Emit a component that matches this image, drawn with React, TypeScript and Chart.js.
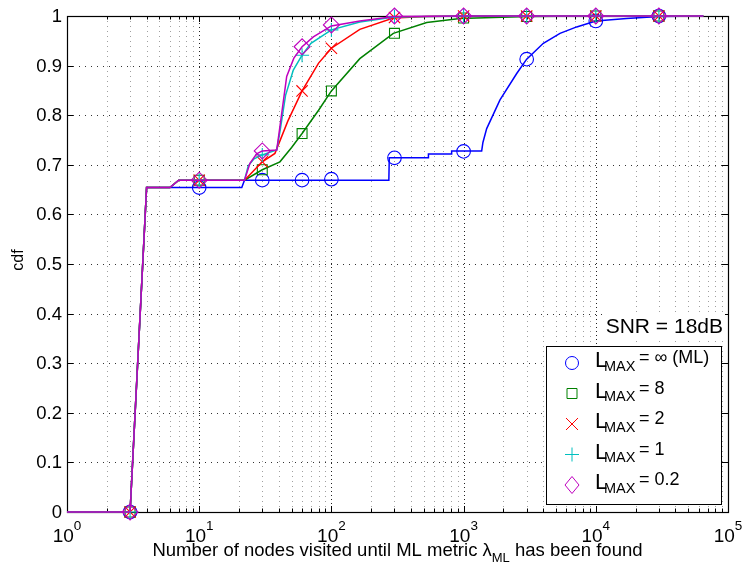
import React, { useEffect, useRef } from 'react';
import { Chart, registerables } from 'chart.js';

Chart.register(...registerables);

// ---- data ----
const markerX = [3, 10, 30, 60, 100, 300, 1000, 3000, 10000, 30000];
const mlMarkY = [0, 0.654, 0.669, 0.669, 0.671, 0.714, 0.727, 0.913, 0.99, 1.0];
const l8MarkY = [0, 0.669, 0.69, 0.763, 0.849, 0.965, 0.996, 0.999, 1.0, 1.0];
const l2MarkY = [0, 0.669, 0.706, 0.849, 0.935, 0.997, 1.0, 1.0, 1.0, 1.0];
const l1MarkY = [0, 0.669, 0.72, 0.921, 0.972, 0.999, 1.0, 1.0, 1.0, 1.0];
const l02MarkY = [0, 0.669, 0.728, 0.938, 0.982, 1.0, 1.0, 1.0, 1.0, 1.0];

const mlLineX = [1, 3, 4, 21, 22, 272, 274, 540, 542, 810, 812, 1370, 1400, 1495, 1885, 2522, 3000, 4010, 5360, 7170, 10000, 17100, 30000, 65000];
const mlLineY = [0, 0, 0.654, 0.654, 0.669, 0.669, 0.714, 0.714, 0.722, 0.722, 0.728, 0.728, 0.745, 0.773, 0.831, 0.884, 0.913, 0.945, 0.965, 0.978, 0.99, 0.995, 0.999, 1.0];

const l8LineX = [1, 3, 4, 6, 7, 22, 30, 40.8, 50, 60, 80, 100, 164, 294, 526, 940, 3000, 10000, 65000];
const l8LineY = [0, 0, 0.654, 0.654, 0.669, 0.669, 0.69, 0.706, 0.735, 0.763, 0.81, 0.849, 0.914, 0.965, 0.987, 0.995, 0.999, 1.0, 1.0];

const l2LineX = [1, 3, 4, 6, 7, 22, 30, 37.4, 46.8, 60, 80, 100, 164, 294, 526, 1000, 65000];
const l2LineY = [0, 0, 0.654, 0.654, 0.669, 0.669, 0.706, 0.723, 0.788, 0.849, 0.905, 0.935, 0.973, 0.996, 0.999, 1.0, 1.0];

const l1LineX = [1, 3, 4, 6, 7, 22, 23.5, 26, 30, 38.6, 41, 45, 51.5, 60, 70, 100, 164, 300, 1000, 65000];
const l1LineY = [0, 0, 0.654, 0.654, 0.669, 0.669, 0.698, 0.712, 0.72, 0.73, 0.77, 0.84, 0.891, 0.921, 0.945, 0.972, 0.988, 0.998, 1.0, 1.0];

const l02LineX = [1, 3, 4, 6, 7, 22, 24.2, 27.2, 30, 38.6, 40.8, 45.9, 52, 60, 73, 100, 164, 300, 1000, 65000];
const l02LineY = [0, 0, 0.654, 0.654, 0.669, 0.669, 0.703, 0.722, 0.728, 0.73, 0.777, 0.878, 0.915, 0.938, 0.958, 0.98, 0.99, 0.999, 1.0, 1.0];

const seriesValues = ['= \u221E (ML)', '= 8', '= 2', '= 1', '= 0.2'];
const yTickValues = [0, 0.1, 0.2, 0.3, 0.4, 0.5, 0.6, 0.7, 0.8, 0.9, 1];
const yTickLabels = ['0', '0.1', '0.2', '0.3', '0.4', '0.5', '0.6', '0.7', '0.8', '0.9', '1'];
const xTickExponents = [0, 1, 2, 3, 4, 5];
const xTitleMain = 'Number of nodes visited until ML metric \u03BB';
const xTitleSub = 'ML';
const xTitleEnd = ' has been found';
const yTitle = 'cdf';
const snrText = 'SNR = 18dB';

// ---- styles ----
const colors = ['#0000ff', '#008000', '#ff0000', '#00bfbf', '#bf00bf'];
const styles = ['circle', 'rect', 'crossRot', 'cross', 'rectRot'];
const radii = [6.8, 7, 8, 7, 8];
const FONT = '"Liberation Sans", Arial, Helvetica, sans-serif';

const zip = (xs: number[], ys: number[]) => xs.map((x, i) => ({ x, y: ys[i] }));

const lines = [
  zip(mlLineX, mlLineY),
  zip(l8LineX, l8LineY),
  zip(l2LineX, l2LineY),
  zip(l1LineX, l1LineY),
  zip(l02LineX, l02LineY),
];
const marks = [mlMarkY, l8MarkY, l2MarkY, l1MarkY, l02MarkY].map((ys) => zip(markerX, ys));

function drawMarker(ctx: CanvasRenderingContext2D, style: string, x: number, y: number, color: string) {
  ctx.save();
  ctx.strokeStyle = color;
  ctx.lineWidth = 1;
  ctx.setLineDash([]);
  ctx.beginPath();
  if (style === 'circle') {
    ctx.arc(x, y, 6.5, 0, Math.PI * 2);
  } else if (style === 'rect') {
    ctx.rect(x - 5, y - 5, 10, 10);
  } else if (style === 'crossRot') {
    ctx.moveTo(x - 6, y - 6); ctx.lineTo(x + 6, y + 6);
    ctx.moveTo(x + 6, y - 6); ctx.lineTo(x - 6, y + 6);
  } else if (style === 'cross') {
    ctx.moveTo(x - 7, y); ctx.lineTo(x + 7, y);
    ctx.moveTo(x, y - 7); ctx.lineTo(x, y + 7);
  } else {
    ctx.moveTo(x, y - 8.5); ctx.lineTo(x + 7, y); ctx.lineTo(x, y + 8.5); ctx.lineTo(x - 7, y); ctx.closePath();
  }
  ctx.stroke();
  ctx.restore();
}

const decor = {
  id: 'decor',
  beforeDatasetsDraw(chart: any) {
    const ctx: CanvasRenderingContext2D = chart.ctx;
    const { left, right, top, bottom } = chart.chartArea;
    const xs = chart.scales.x;
    const ys = chart.scales.y;
    ctx.save();
    ctx.lineWidth = 1;
    // vertical grid
    for (let e = 0; e < 5; e++) {
      for (let m = 1; m < 10; m++) {
        const v = m * Math.pow(10, e);
        if (v <= 1 || v >= 1e5) continue;
        const px = Math.round(xs.getPixelForValue(v)) + 0.5;
        const major = m === 1;
        ctx.strokeStyle = major ? '#222' : '#a0a0a0';
        ctx.setLineDash(major ? [1, 3] : [1, 4]);
        ctx.beginPath();
        ctx.moveTo(px, bottom);
        ctx.lineTo(px, top);
        ctx.stroke();
      }
    }
    // horizontal grid
    ctx.strokeStyle = '#333';
    ctx.setLineDash([1, 5]);
    yTickValues.forEach((v) => {
      if (v <= 0 || v >= 1) return;
      const py = Math.round(ys.getPixelForValue(v)) + 0.5;
      ctx.beginPath();
      ctx.moveTo(left, py);
      ctx.lineTo(right, py);
      ctx.stroke();
    });
    ctx.setLineDash([]);
    // ticks
    ctx.strokeStyle = '#000';
    yTickValues.forEach((v) => {
      const py = Math.round(ys.getPixelForValue(v)) + 0.5;
      ctx.beginPath();
      ctx.moveTo(left, py); ctx.lineTo(left + 6, py);
      ctx.moveTo(right, py); ctx.lineTo(right - 6, py);
      ctx.stroke();
    });
    for (let e = 0; e < 5; e++) {
      for (let m = 1; m < 10; m++) {
        const v = m * Math.pow(10, e);
        const px = Math.round(xs.getPixelForValue(v)) + 0.5;
        const len = m === 1 ? 6 : 3.5;
        ctx.beginPath();
        ctx.moveTo(px, bottom); ctx.lineTo(px, bottom - len);
        ctx.moveTo(px, top); ctx.lineTo(px, top + len);
        ctx.stroke();
      }
    }
    // frame
    ctx.lineWidth = 1.2;
    ctx.strokeRect(Math.round(left) + 0.5, Math.round(top) + 0.5, Math.round(right - left), Math.round(bottom - top));
    ctx.restore();
  },
  afterDraw(chart: any) {
    const ctx: CanvasRenderingContext2D = chart.ctx;
    const { left, right } = chart.chartArea;
    const xs = chart.scales.x;
    const ys = chart.scales.y;
    ctx.save();
    ctx.fillStyle = '#000';
    // y tick labels
    ctx.font = `18.5px ${FONT}`;
    ctx.textAlign = 'right';
    ctx.textBaseline = 'middle';
    yTickValues.forEach((v, i) => {
      ctx.fillText(yTickLabels[i], left - 5, ys.getPixelForValue(v) + 1);
    });
    // x tick labels
    ctx.textAlign = 'left';
    ctx.textBaseline = 'alphabetic';
    xTickExponents.forEach((e) => {
      const px = xs.getPixelForValue(Math.pow(10, e));
      ctx.font = `19px ${FONT}`;
      const w1 = ctx.measureText('10').width;
      ctx.font = `13.5px ${FONT}`;
      const w2 = ctx.measureText(String(e)).width;
      const x0 = px - (w1 + w2) / 2;
      ctx.font = `19px ${FONT}`;
      ctx.fillText('10', x0, 542);
      ctx.font = `13.5px ${FONT}`;
      ctx.fillText(String(e), x0 + w1, 530);
    });
    // x title
    ctx.font = `18.5px ${FONT}`;
    const wa = ctx.measureText(xTitleMain).width;
    const wc = ctx.measureText(xTitleEnd).width;
    ctx.font = `13px ${FONT}`;
    const wb = ctx.measureText(xTitleSub).width;
    const tx = (left + right) / 2 - (wa + wb + wc) / 2;
    ctx.font = `18.5px ${FONT}`;
    ctx.fillText(xTitleMain, tx, 556);
    ctx.font = `13px ${FONT}`;
    ctx.fillText(xTitleSub, tx + wa, 562);
    ctx.font = `18.5px ${FONT}`;
    ctx.fillText(xTitleEnd, tx + wa + wb, 556);
    // y title
    ctx.save();
    ctx.translate(23, 260);
    ctx.rotate(-Math.PI / 2);
    ctx.font = `16px ${FONT}`;
    ctx.textAlign = 'center';
    ctx.fillText(yTitle, 0, 0);
    ctx.restore();
    // SNR text
    ctx.fillStyle = '#fff';
    ctx.fillRect(603, 314, 122, 26);
    ctx.fillStyle = '#000';
    ctx.font = `21px ${FONT}`;
    ctx.textAlign = 'right';
    ctx.fillText(snrText, 723, 333);
    // legend
    const bx0 = 546, by0 = 346, bx1 = 721, by1 = 504;
    ctx.fillStyle = '#fff';
    ctx.fillRect(bx0, by0, bx1 - bx0, by1 - by0);
    ctx.strokeStyle = '#000';
    ctx.lineWidth = 1;
    ctx.strokeRect(bx0 + 0.5, by0 + 0.5, bx1 - bx0, by1 - by0);
    ctx.fillStyle = '#000';
    ctx.textAlign = 'left';
    seriesValues.forEach((val, i) => {
      const base = 367 + i * 30.5;
      drawMarker(ctx, styles[i], 572, base - 4, colors[i]);
      ctx.font = `22px ${FONT}`;
      ctx.fillText('L', 595, base);
      ctx.font = `14.5px ${FONT}`;
      ctx.fillText('MAX', 604, base + 3.5);
      ctx.font = `18px ${FONT}`;
      ctx.fillText(val, 639, base - 4);
    });
    ctx.restore();
  },
};

export default function App() {
  const ref = useRef<HTMLCanvasElement>(null);
  useEffect(() => {
    const datasets: any[] = [];
    for (let i = 0; i < 5; i++) {
      datasets.push({
        label: 'line' + i,
        data: lines[i],
        showLine: true,
        borderColor: colors[i],
        backgroundColor: colors[i],
        borderWidth: 1.5,
        pointRadius: 0,
        pointHoverRadius: 0,
        tension: 0,
        order: 10 - 2 * i,
        clip: false,
      });
      datasets.push({
        label: 'marks' + i,
        data: marks[i],
        showLine: false,
        pointStyle: styles[i],
        pointRadius: radii[i],
        pointBorderWidth: 1.1,
        pointBorderColor: colors[i],
        pointBackgroundColor: 'rgba(0,0,0,0)',
        order: 9 - 2 * i,
        clip: false,
      });
    }
    const chart = new Chart(ref.current as HTMLCanvasElement, {
      type: 'scatter',
      data: { datasets },
      options: {
        responsive: false,
        animation: false,
        devicePixelRatio: 1,
        layout: { padding: { left: 67, right: 16, top: 16, bottom: 53 } },
        plugins: { legend: { display: false }, tooltip: { enabled: false } },
        events: [],
        scales: {
          x: { type: 'logarithmic', min: 1, max: 100000, display: false },
          y: { type: 'linear', min: 0, max: 1, display: false },
        },
      },
      plugins: [decor],
    } as any);
    return () => chart.destroy();
  }, []);
  return (
    <canvas
      ref={ref}
      width={744}
      height={565}
      style={{ position: 'absolute', left: 0, top: 0, display: 'block', background: '#fff' }}
    />
  );
}
